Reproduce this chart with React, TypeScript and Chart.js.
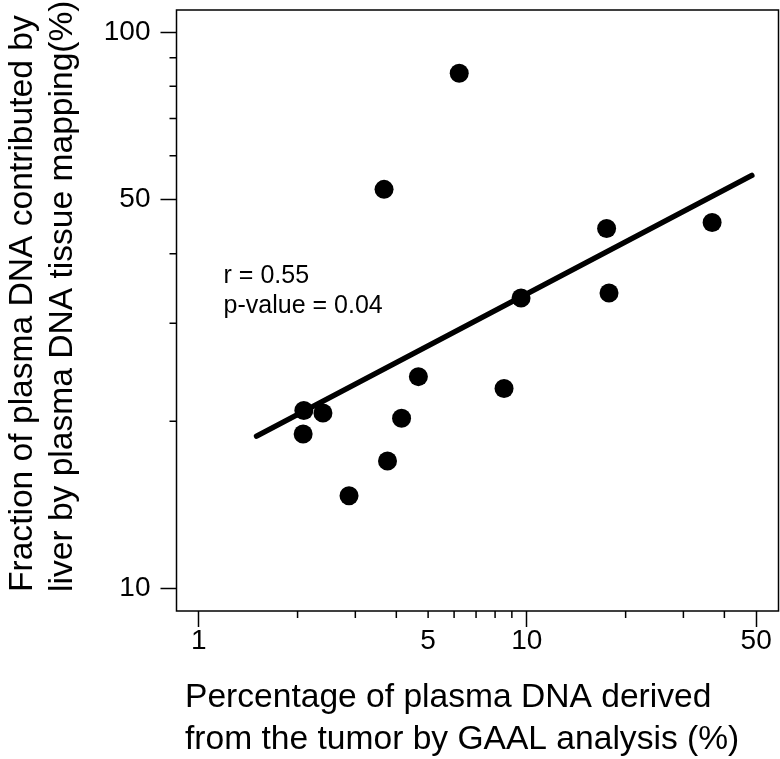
import React, { useEffect, useRef } from 'react';
import { Chart, registerables } from 'chart.js';

Chart.register(...registerables);

// Percentage of plasma DNA derived from the tumor (x) vs liver contribution (y)
const tumorPct = [6.22, 3.67, 17.5, 36.7, 9.6, 17.8, 4.67, 8.52, 2.09, 2.39, 2.08, 4.15, 3.76, 2.87];
const liverPct = [84.4, 52.2, 44.4, 45.5, 33.3, 34.0, 24.05, 22.9, 20.9, 20.7, 18.97, 20.25, 16.97, 14.69];

// regression line end points
const fitX = [1.5, 48.5];
const fitY = [18.8, 55.3];

const xTicks = [1, 2, 3, 4, 5, 6, 7, 8, 9, 10, 20, 30, 40, 50];
const xLabels = [1, 5, 10, 50];
const xMajor = [1, 10, 50];
const yTicks = [10, 20, 30, 40, 50, 60, 70, 80, 90, 100];
const yLabels = [10, 50, 100];
const yMajor = [10, 50, 100];

const xTitle = ['Percentage of plasma DNA derived', 'from the tumor by GAAL analysis (%)'];
const yTitle = ['Fraction of plasma DNA contributed by', 'liver by plasma DNA tissue mapping(%)'];
const annotation = ['r = 0.55', 'p-value = 0.04'];
const annotationAt = { x: 1.19, y: 35.4 };

const FONT = '"Liberation Sans", Arial, Helvetica, sans-serif';

const extrasPlugin = {
  id: 'extras',
  afterDraw(chart: any) {
    const { ctx, chartArea } = chart;
    const { left, top, right, bottom } = chartArea;
    const xs = chart.scales.x;
    const ys = chart.scales.y;
    ctx.save();
    ctx.strokeStyle = '#000';
    ctx.lineWidth = 1.5;
    ctx.strokeRect(left, top, right - left, bottom - top);

    // minor ticks
    ctx.lineWidth = 1.5;
    ctx.beginPath();
    xTicks.forEach((v) => {
      if (xMajor.includes(v)) return;
      const px = xs.getPixelForValue(v);
      ctx.moveTo(px, bottom);
      ctx.lineTo(px, bottom + 7);
    });
    yTicks.forEach((v) => {
      if (yMajor.includes(v)) return;
      const py = ys.getPixelForValue(v);
      ctx.moveTo(left, py);
      ctx.lineTo(left - 7, py);
    });
    ctx.stroke();

    ctx.fillStyle = '#000';
    // annotation
    ctx.font = `25px ${FONT}`;
    ctx.textAlign = 'left';
    ctx.textBaseline = 'alphabetic';
    const ax = xs.getPixelForValue(annotationAt.x);
    const ay = ys.getPixelForValue(annotationAt.y);
    annotation.forEach((t, i) => ctx.fillText(t, ax, ay + i * 30));

    // axis titles
    ctx.font = `33.6px ${FONT}`;
    xTitle.forEach((t, i) => ctx.fillText(t, 185, 707 + i * 42));
    yTitle.forEach((t, i) => {
      ctx.save();
      ctx.translate(32 + i * 40, 592);
      ctx.rotate(-Math.PI / 2);
      ctx.fillText(t, 0, 0);
      ctx.restore();
    });
    ctx.restore();
  },
};

const zeroPad = (s: any) => {
  s.paddingTop = 0;
  s.paddingBottom = 0;
  s.paddingLeft = 0;
  s.paddingRight = 0;
};

export default function App() {
  const ref = useRef<HTMLCanvasElement | null>(null);
  useEffect(() => {
    if (!ref.current) return;
    const chart = new Chart(ref.current, {
      type: 'scatter',
      data: {
        datasets: [
          {
            label: 'samples',
            data: tumorPct.map((x, i) => ({ x, y: liverPct[i] })),
            pointRadius: 9.5,
            pointHoverRadius: 9.5,
            pointBackgroundColor: '#000',
            pointBorderWidth: 0,
            showLine: false,
          },
          {
            label: 'fit',
            data: fitX.map((x, i) => ({ x, y: fitY[i] })),
            showLine: true,
            borderColor: '#000',
            borderWidth: 5.5,
            borderCapStyle: 'round',
            pointRadius: 0,
            pointHoverRadius: 0,
          },
        ],
      },
      options: {
        animation: false,
        responsive: false,
        events: [],
        layout: { autoPadding: false, padding: { top: 10, right: 1.5, left: 0, bottom: 0 } },
        plugins: { legend: { display: false }, tooltip: { enabled: false } },
        scales: {
          x: {
            type: 'logarithmic',
            position: 'bottom',
            min: Math.pow(10, -0.068),
            max: Math.pow(10, 1.767),
            border: { display: false },
            grid: {
              drawOnChartArea: false,
              drawTicks: true,
              tickLength: 16,
              tickWidth: 1.5,
              tickColor: (c: any) => (c.tick && xMajor.includes(c.tick.value) ? '#000' : 'rgba(0,0,0,0)'),
            },
            ticks: {
              autoSkip: false,
              maxRotation: 0,
              minRotation: 0,
              padding: -3,
              color: '#000',
              font: { family: FONT, size: 28 },
              callback: (v: any) => (xLabels.includes(Number(v)) ? String(v) : ''),
            },
            afterBuildTicks: (s: any) => {
              s.ticks = xTicks.map((v) => ({ value: v }));
            },
            afterFit: (s: any) => {
              s.height = 148;
              zeroPad(s);
            },
          },
          y: {
            type: 'logarithmic',
            position: 'left',
            min: Math.pow(10, 0.96),
            max: Math.pow(10, 2.04),
            border: { display: false },
            grid: {
              drawOnChartArea: false,
              drawTicks: true,
              tickLength: 16,
              tickWidth: 1.5,
              tickColor: (c: any) => (c.tick && yMajor.includes(c.tick.value) ? '#000' : 'rgba(0,0,0,0)'),
            },
            ticks: {
              autoSkip: false,
              padding: 10,
              color: '#000',
              font: { family: FONT, size: 28 },
              callback: (v: any) => (yLabels.includes(Number(v)) ? String(v) : ''),
            },
            afterBuildTicks: (s: any) => {
              s.ticks = yTicks.map((v) => ({ value: v }));
            },
            afterFit: (s: any) => {
              s.width = 176.5;
              zeroPad(s);
            },
          },
        },
      },
      plugins: [extrasPlugin],
    });
    return () => chart.destroy();
  }, []);
  return (
    <div style={{ position: 'absolute', left: 0, top: 0, width: 780, height: 759, background: '#fff' }}>
      <canvas ref={ref} width={780} height={759} style={{ display: 'block' }} />
    </div>
  );
}
